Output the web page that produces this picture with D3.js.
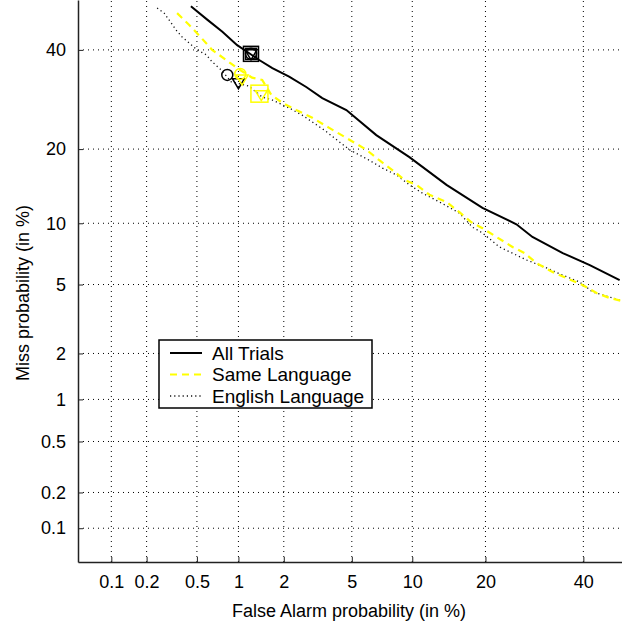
<!DOCTYPE html>
<html>
<head>
  <meta charset="UTF-8">
  <title>DET Curve</title>
  <script src="https://d3js.org/d3.v7.min.js"></script>
  <style>
    body {
      margin: 0;
      background: #fff;
      font-family: "Liberation Sans", Arial, sans-serif;
    }
    .grid line {
      stroke: #000;
      stroke-width: 1;
      stroke-dasharray: 1,4;
    }
    .axis text {
      font-size: 18px;
      fill: #000;
    }
    .axis path, .axis line {
      stroke: #222;
    }
  </style>
</head>
<body>
  <div id="chart"></div>
  <script>
    // tick values, in %
    const tickValues = [0.1, 0.2, 0.5, 1, 2, 5, 10, 20, 40];

    // All Trials: false alarm %, miss %
    const allFa = [0.45, 0.60, 0.77, 0.98, 1.18, 1.385, 1.69, 2.16, 2.75, 3.42, 4.67, 6.71, 9.70, 14.1, 19.5, 25.6, 28.8, 35.3, 41.5, 48.6];
    const allMiss = [50.2, 47.0, 44.2, 41.1, 39.3, 37.7, 35.9, 34.0, 31.8, 29.5, 27.1, 22.4, 18.7, 14.6, 11.7, 9.9, 8.65, 7.24, 6.3, 5.28];

    // Same Language
    const sameFa = [0.352, 0.437, 0.539, 0.649, 0.82, 0.98, 1.24, 1.45, 1.66, 1.96, 2.39, 2.99, 3.75, 4.85, 5.96, 6.95, 8.06, 9.19, 10.44, 11.93, 14.1, 15.91, 17.73, 19.5, 21.9, 24.85, 27.2, 29.6, 33.05, 36.15, 39.8, 43.1, 46.2, 49.1];
    const sameMiss = [48.6, 45.8, 42.8, 40.0, 37.7, 35.9, 33.8, 33.3, 30.2, 28.5, 27.1, 25.6, 23.7, 21.6, 19.9, 18.2, 16.7, 15.3, 14.6, 13.3, 12.4, 11.2, 10.1, 9.5, 8.65, 7.75, 7.24, 6.46, 5.81, 5.41, 4.97, 4.50, 4.23, 4.07];

    // English Language
    const engFa = [0.244, 0.278, 0.304, 0.346, 0.385, 0.437, 0.502, 0.587, 0.649, 0.755, 0.89, 1.18, 1.45, 1.69, 2.16, 2.60, 3.51, 4.85, 6.18, 7.20, 8.43, 9.70, 11.11, 13.18, 15.91, 17.88, 19.5, 22.44, 27.6, 31.75, 35.3, 39.1, 42.2, 46.2, 48.6];
    const engMiss = [49.8, 48.6, 47.0, 44.6, 43.0, 41.6, 40.0, 38.9, 37.3, 35.5, 32.9, 32.0, 29.7, 29.1, 27.5, 26.1, 23.3, 19.9, 18.2, 17.0, 16.0, 14.6, 13.5, 12.4, 11.1, 9.6, 9.03, 7.75, 6.69, 6.1, 5.6, 5.16, 4.56, 4.28, 4.12];

    // operating point markers
    const markerFa = [1.22, 1.22, 1.22, 1.22, 0.835, 1.00, 1.03, 1.06, 1.39, 1.43];
    const markerMiss = [39.1, 39.1, 39.1, 39.1, 34.4, 32.7, 34.6, 33.5, 30.4, 30.2];
    const markerShape = ["square", "square2", "circle", "triangle", "circle", "triangle", "circle", "triangle", "square", "triangle"];
    const markerColor = ["black", "black", "black", "black", "black", "black", "yellow", "yellow", "yellow", "yellow"];

    const legendLabels = ["All Trials", "Same Language", "English Language"];

    // inverse normal CDF (Acklam)
    const probit = p => {
      const a = [-39.69683028665376, 220.9460984245205, -275.9285104469687, 138.3577518672690, -30.66479806614716, 2.506628277459239];
      const b = [-54.47609879822406, 161.5858368580409, -155.6989798598866, 66.80131188771972, -13.28068155288572];
      const c = [-0.007784894002430293, -0.3223964580411365, -2.400758277161838, -2.549732539343734, 4.374664141464968, 2.938163982698783];
      const d = [0.007784695709041462, 0.3224671290700398, 2.445134137142996, 3.754408661907416];
      const pl = 0.02425;
      if (p < pl) {
        const q = Math.sqrt(-2 * Math.log(p));
        return (((((c[0]*q+c[1])*q+c[2])*q+c[3])*q+c[4])*q+c[5]) / ((((d[0]*q+d[1])*q+d[2])*q+d[3])*q+1);
      } else if (p <= 1 - pl) {
        const q = p - 0.5, r = q * q;
        return (((((a[0]*r+a[1])*r+a[2])*r+a[3])*r+a[4])*r+a[5])*q / (((((b[0]*r+b[1])*r+b[2])*r+b[3])*r+b[4])*r+1);
      } else {
        const q = Math.sqrt(-2 * Math.log(1 - p));
        return -(((((c[0]*q+c[1])*q+c[2])*q+c[3])*q+c[4])*q+c[5]) / ((((d[0]*q+d[1])*q+d[2])*q+d[3])*q+1);
      }
    };

    const W = 622, H = 625;
    const plotL = 78, plotR = 625.5, plotT = 0, plotB = 562;

    const xScale = d3.scaleLinear()
      .domain([probit(0.0005), probit(0.5)])
      .range([plotL, plotR]);
    const yScale = d3.scaleLinear()
      .domain([probit(0.0005), probit(0.517)])
      .range([plotB, plotT]);

    const fx = v => xScale(probit(v / 100));
    const fy = v => yScale(probit(v / 100));

    const svg = d3.select("#chart")
      .append("svg")
      .attr("width", W)
      .attr("height", H);

    svg.append("defs").append("clipPath")
      .attr("id", "plot-clip")
      .append("rect")
      .attr("x", plotL).attr("y", plotT)
      .attr("width", plotR - plotL).attr("height", plotB - plotT);

    // grid
    const grid = svg.append("g").attr("class", "grid");
    grid.selectAll(".vg")
      .data(tickValues)
      .enter()
      .append("line")
      .attr("x1", d => fx(d)).attr("x2", d => fx(d))
      .attr("y1", plotB).attr("y2", plotT);
    grid.selectAll(".hg")
      .data(tickValues)
      .enter()
      .append("line")
      .attr("y1", d => fy(d)).attr("y2", d => fy(d))
      .attr("x1", plotL).attr("x2", plotR);

    // axes
    const fmt = d => String(d);
    const xAxis = d3.axisBottom(xScale)
      .tickValues(tickValues.map(v => probit(v / 100)))
      .tickFormat((d, i) => fmt(tickValues[i]))
      .tickSizeInner(-5)
      .tickSizeOuter(0)
      .tickPadding(13);
    const yAxis = d3.axisLeft(yScale)
      .tickValues(tickValues.map(v => probit(v / 100)))
      .tickFormat((d, i) => fmt(tickValues[i]))
      .tickSizeInner(-5)
      .tickSizeOuter(0)
      .tickPadding(12);

    svg.append("g")
      .attr("class", "axis")
      .attr("transform", `translate(0, ${plotB})`)
      .call(xAxis)
      .call(g => g.select(".domain").attr("stroke-width", 1.5));

    svg.append("g")
      .attr("class", "axis")
      .attr("transform", `translate(${plotL}, 0)`)
      .call(yAxis)
      .call(g => g.select(".domain").attr("stroke-width", 1.5));

    // axis titles
    svg.append("text")
      .attr("x", 349)
      .attr("y", 617)
      .attr("text-anchor", "middle")
      .style("font-size", "18px")
      .text("False Alarm probability (in %)");

    svg.append("text")
      .attr("transform", `translate(28.5, 293) rotate(-90)`)
      .attr("text-anchor", "middle")
      .style("font-size", "18px")
      .text("Miss probability (in %)");

    // curves
    const line = d3.line().x(d => fx(d[0])).y(d => fy(d[1]));
    const plot = svg.append("g").attr("clip-path", "url(#plot-clip)");

    plot.append("path")
      .datum(engFa.map((v, i) => [v, engMiss[i]]))
      .attr("d", line)
      .attr("fill", "none")
      .attr("stroke", "#111")
      .attr("stroke-width", 1.3)
      .attr("stroke-dasharray", "1.2,3");

    plot.append("path")
      .datum(sameFa.map((v, i) => [v, sameMiss[i]]))
      .attr("d", line)
      .attr("fill", "none")
      .attr("stroke", "#ffff00")
      .attr("stroke-width", 2.2)
      .attr("stroke-dasharray", "7,5");

    plot.append("path")
      .datum(allFa.map((v, i) => [v, allMiss[i]]))
      .attr("d", line)
      .attr("fill", "none")
      .attr("stroke", "#000")
      .attr("stroke-width", 2);

    // markers
    const markers = markerFa.map((v, i) => ({ fa: v, miss: markerMiss[i], shape: markerShape[i], color: markerColor[i] }));
    const mg = plot.selectAll(".marker")
      .data(markers)
      .enter()
      .append("g")
      .attr("class", "marker")
      .attr("transform", d => `translate(${fx(d.fa)}, ${fy(d.miss)})`)
      .attr("fill", "none")
      .attr("stroke", d => d.color === "yellow" ? "#ffff00" : "#000")
      .attr("stroke-width", 1.5);

    mg.each(function(d) {
      const g = d3.select(this);
      if (d.shape === "circle") {
        g.append("circle").attr("r", 5.5);
      } else if (d.shape === "square") {
        const s = d.color === "yellow" ? 17 : 15;
        g.append("rect").attr("x", -s / 2).attr("y", -s / 2).attr("width", s).attr("height", s);
      } else if (d.shape === "square2") {
        g.append("rect").attr("x", -5.5).attr("y", -5.5).attr("width", 11).attr("height", 11);
      } else {
        g.append("path").attr("d", "M-6,-4L6,-4L0,6Z");
      }
    });

    // legend
    const lg = svg.append("g");
    lg.append("rect")
      .attr("x", 159).attr("y", 340)
      .attr("width", 213).attr("height", 68)
      .attr("fill", "#fff")
      .attr("stroke", "#000")
      .attr("stroke-width", 1.5);

    const legendStyles = [
      { stroke: "#000", width: 2, dash: null },
      { stroke: "#ffff00", width: 2.2, dash: "7,5" },
      { stroke: "#111", width: 1.3, dash: "1.2,3" }
    ];
    legendLabels.forEach((label, i) => {
      const y = 353 + i * 21.5;
      lg.append("line")
        .attr("x1", 170).attr("x2", 202)
        .attr("y1", y).attr("y2", y)
        .attr("stroke", legendStyles[i].stroke)
        .attr("stroke-width", legendStyles[i].width)
        .attr("stroke-dasharray", legendStyles[i].dash);
      lg.append("text")
        .attr("x", 212)
        .attr("y", y + 6.8)
        .style("font-size", "19px")
        .text(label);
    });
  </script>
</body>
</html>
